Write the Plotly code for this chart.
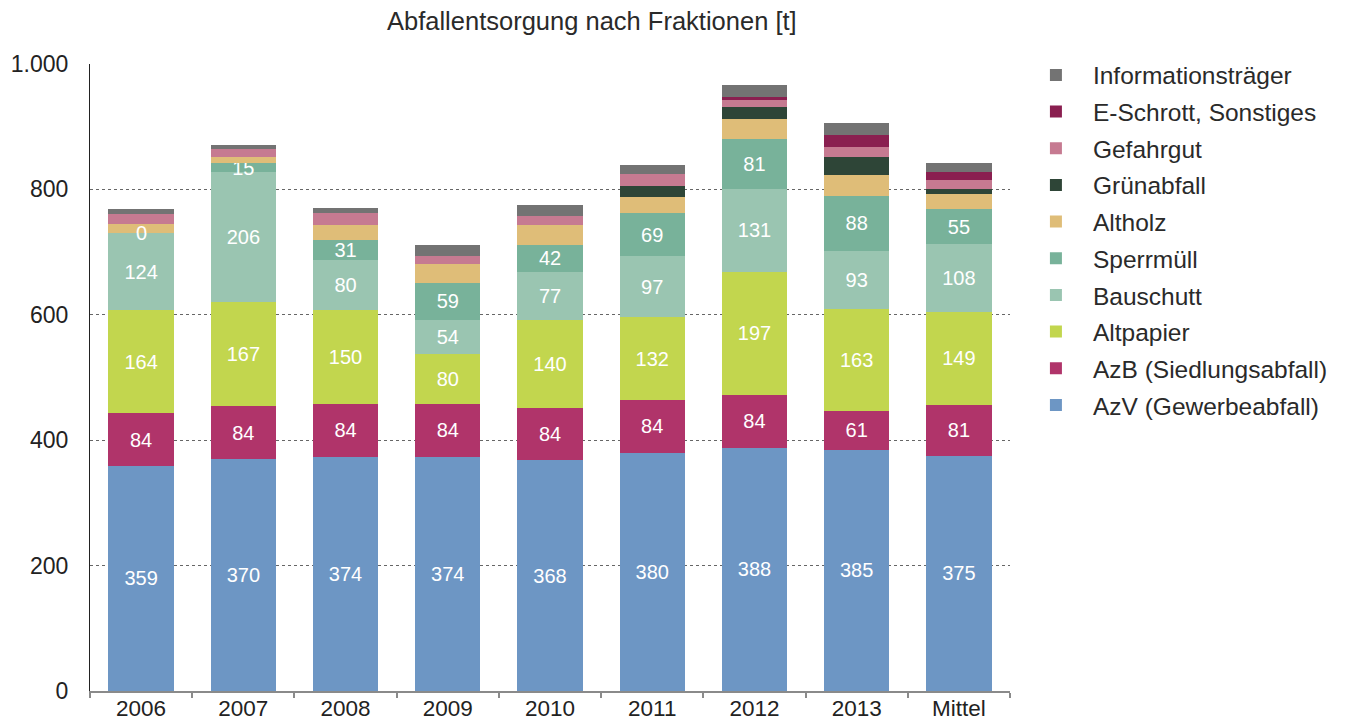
import plotly.graph_objects as go

categories = ["2006", "2007", "2008", "2009", "2010", "2011", "2012", "2013", "Mittel"]

azv = [359, 370, 374, 374, 368, 380, 388, 385, 375]
azb = [84, 84, 84, 84, 84, 84, 84, 61, 81]
altpapier = [164, 167, 150, 80, 140, 132, 197, 163, 149]
bauschutt = [124, 206, 80, 54, 77, 97, 131, 93, 108]
sperrmuell = [0, 15, 31, 59, 42, 69, 81, 88, 55]
altholz = [14, 10, 25, 30, 32, 26, 31, 33, 25]
gruenabfall = [0, 0, 0, 0, 0, 18, 19, 29, 8]
gefahrgut = [16, 12, 18, 13, 14, 19, 11, 16, 14]
eschrott = [0, 0, 0, 0, 0, 0, 5, 19, 13]
info = [8, 7, 9, 17, 18, 14, 19, 19, 14]

series = [
    ("AzV (Gewerbeabfall)", azv, "#6d96c4", True),
    ("AzB (Siedlungsabfall)", azb, "#b0346a", True),
    ("Altpapier", altpapier, "#c2d64e", True),
    ("Bauschutt", bauschutt, "#9ac5b1", True),
    ("Sperrmüll", sperrmuell, "#78b29a", True),
    ("Altholz", altholz, "#dfbd78", False),
    ("Grünabfall", gruenabfall, "#2e4537", False),
    ("Gefahrgut", gefahrgut, "#c67a91", False),
    ("E-Schrott, Sonstiges", eschrott, "#8a1f50", False),
    ("Informationsträger", info, "#737373", False),
]

FONT = "Liberation Sans"
fig = go.Figure()
cum = [0] * len(categories)
annotations = []
legends = {}
n = len(series)
for k, (name, vals, color, labeled) in enumerate(series):
    lg = "legend" if k == 0 else f"legend{k + 1}"
    row = n - 1 - k  # top legend row is the last series
    ypx = 75 + row * 36.67
    legends[lg] = dict(x=1.0097, y=(691 - ypx) / 627, xanchor="left", yanchor="middle",
                       font=dict(size=24.5, color="#2a2a2a", family=FONT), itemwidth=64,
                       bgcolor="rgba(0,0,0,0)")
    fig.add_trace(go.Bar(
        name=name, x=categories, y=vals, legend=lg, showlegend=True,
        marker=dict(color=color, line=dict(width=0)),
        text=[str(v) if v > 0 else "" for v in vals] if labeled else None,
        textposition="inside" if labeled else "none",
        insidetextanchor="middle", textangle=0,
        textfont=dict(color="white", size=20, family=FONT),
        hoverinfo="name+y",
    ))
    if labeled:
        for i, v in enumerate(vals):
            if v == 0:
                # zero-height segment: label at its position (category index i)
                annotations.append(dict(x=i, y=cum[i], text="0", showarrow=False,
                                        font=dict(color="white", size=20, family=FONT),
                                        xref="x", yref="y"))
    cum = [c + v for c, v in zip(cum, vals)]

annotations.append(dict(text="Abfallentsorgung nach Fraktionen [t]", x=0.546, y=1, xref="paper", yref="paper",
                        yanchor="bottom", yshift=27, showarrow=False,
                        font=dict(size=25.5, color="#2a2a2a", family=FONT)))

fig.update_layout(
    barmode="stack", bargap=0.36,
    width=1341, height=715,
    margin=dict(l=82, r=339, t=56, b=32),
    paper_bgcolor="white", plot_bgcolor="white",
    font=dict(family=FONT, size=23, color="#222"),
    showlegend=True,
    uniformtext=dict(minsize=20, mode="show"),
    annotations=annotations,
    xaxis=dict(type="category", categoryorder="array", categoryarray=categories,
               showline=True, linecolor="#8a8a8a", linewidth=1.5, ticks="outside",
               tickson="boundaries", ticklen=5, tickcolor="#8a8a8a", tickwidth=1.5,
               ticklabelstandoff=-4,
               automargin=False, tickfont=dict(size=22.5, color="#222")),
    yaxis=dict(range=[0, 1000], tickvals=[0, 200, 400, 600, 800, 1000],
               ticktext=["0", "200", "400", "600", "800", "1.000"],
               showline=True, linecolor="#222", linewidth=1, automargin=False,
               showgrid=True, gridcolor="#666", griddash="3px,3px", gridwidth=1,
               zeroline=False, ticks="", ticklabelstandoff=16,
               tickfont=dict(size=23, color="#222")),
    **legends,
)

fig.write_html("out.html")
